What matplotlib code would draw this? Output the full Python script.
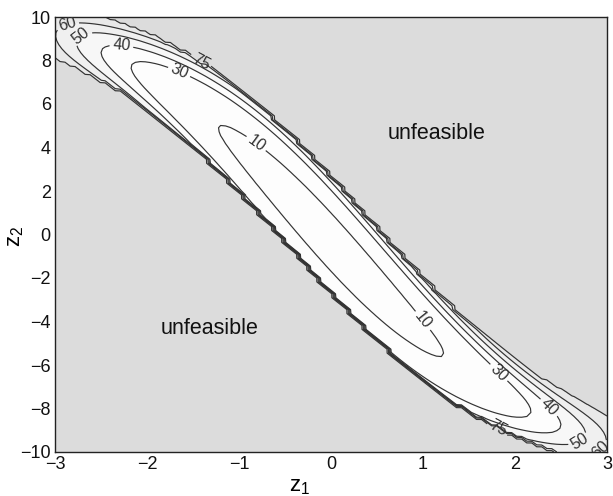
import numpy as np
import matplotlib
matplotlib.use("Agg")
import matplotlib.pyplot as plt

plt.rcParams['font.family'] = ['Liberation Sans', 'DejaVu Sans']
plt.rcParams['mathtext.fontset'] = 'custom'
plt.rcParams['mathtext.rm'] = 'Liberation Sans'

# ---- axes / ticks ----
x_ticks = [-3, -2, -1, 0, 1, 2, 3]
y_ticks = [-10, -8, -6, -4, -2, 0, 2, 4, 6, 8, 10]
x_label = r'z$_1$'
y_label = r'z$_2$'

# ---- contour levels & label positions (z1, z2) ----
levels = [10, 30, 40, 50, 60, 75]
label_pos = {
    10: [(-0.85, 3.98), (0.91, -4.25)],
    30: [(-1.72, 6.74), (1.70, -6.9)],
    40: [(-2.29, 8.25), (2.29, -8.3)],
    50: [(-2.71, 9.03), (2.67, -9.2)],
    60: [(-2.86, 9.54), (2.92, -9.8)],
    75: [(-1.42, 7.65), (1.82, -8.85)],
}
fill_levels = [-1, 40, 50, 60, 75, 1000]
fill_colors = ['#fdfdfd', '#f7f7f7', '#f0f0f0', '#e9e9e9', '#dcdcdc']

annotations = [("unfeasible", 1.15, 4.66), ("unfeasible", -1.32, -4.3)]

# ---- field model (band of feasible points) ----
grid_n1 = 111
grid_n2 = 111
band_amp = 11.0      # centre line amplitude
band_scale = 2.4     # centre line tanh scale
width_a = 0.72       # half width constant part
width_b = 0.43       # half width slope part
valley_shift = -0.13
base_val = 0.8
along_coef2 = 6.1
along_coef8 = 7e-4
across_coef0 = 37.0
across_coef1 = 0.235
penalty = 85.0

z1 = np.linspace(-3, 3, grid_n1)
z2 = np.linspace(-10, 10, grid_n2)
Z1, Z2 = np.meshgrid(z1, z2)
C = -band_amp * np.tanh(Z1 / band_scale)
Cp = (band_amp / band_scale) / np.cosh(Z1 / band_scale) ** 2
W = width_a + width_b * Cp
T = (Z2 - C) / W
KT = across_coef0 - across_coef1 * Z1 ** 4
F = base_val + along_coef2 * Z1 ** 2 + along_coef8 * Z1 ** 8 + KT * (T - valley_shift) ** 2
F = np.where(np.abs(T) < 1, F, penalty)

fig = plt.figure(figsize=(6.13, 4.96), dpi=100)
ax = fig.add_axes([55 / 613, 44 / 496, 552 / 613, 435 / 496])

ax.contourf(Z1, Z2, F, levels=fill_levels, colors=fill_colors)
for lev in levels:
    cs = ax.contour(Z1, Z2, F, levels=[lev], colors='#333333', linewidths=0.85)
    ax.clabel(cs, manual=label_pos[lev], fmt='%d', fontsize=11.5,
              inline=True, inline_spacing=3)

for txt, x, y in annotations:
    ax.text(x, y, txt, fontsize=15.5, ha='center', va='center', color='#111111')

ax.set_xlim(-3, 3)
ax.set_ylim(-10, 10)
ax.set_xticks(x_ticks)
ax.set_yticks(y_ticks)
ax.set_xticklabels([str(v).replace('-', '\u2212') for v in x_ticks])
ax.set_yticklabels([str(v).replace('-', '\u2212') for v in y_ticks])
ax.tick_params(length=0, labelsize=13, pad=3, colors='#111111')
for s in ax.spines.values():
    s.set_linewidth(1.0)
    s.set_color('#222222')

fig.text(300 / 613, 1 - 486 / 496, x_label, fontsize=16, ha='center', va='center')
fig.text(16 / 613, 1 - 236 / 496, y_label, fontsize=16, ha='center', va='center',
         rotation=90)

fig.savefig("out.png", dpi=100)
